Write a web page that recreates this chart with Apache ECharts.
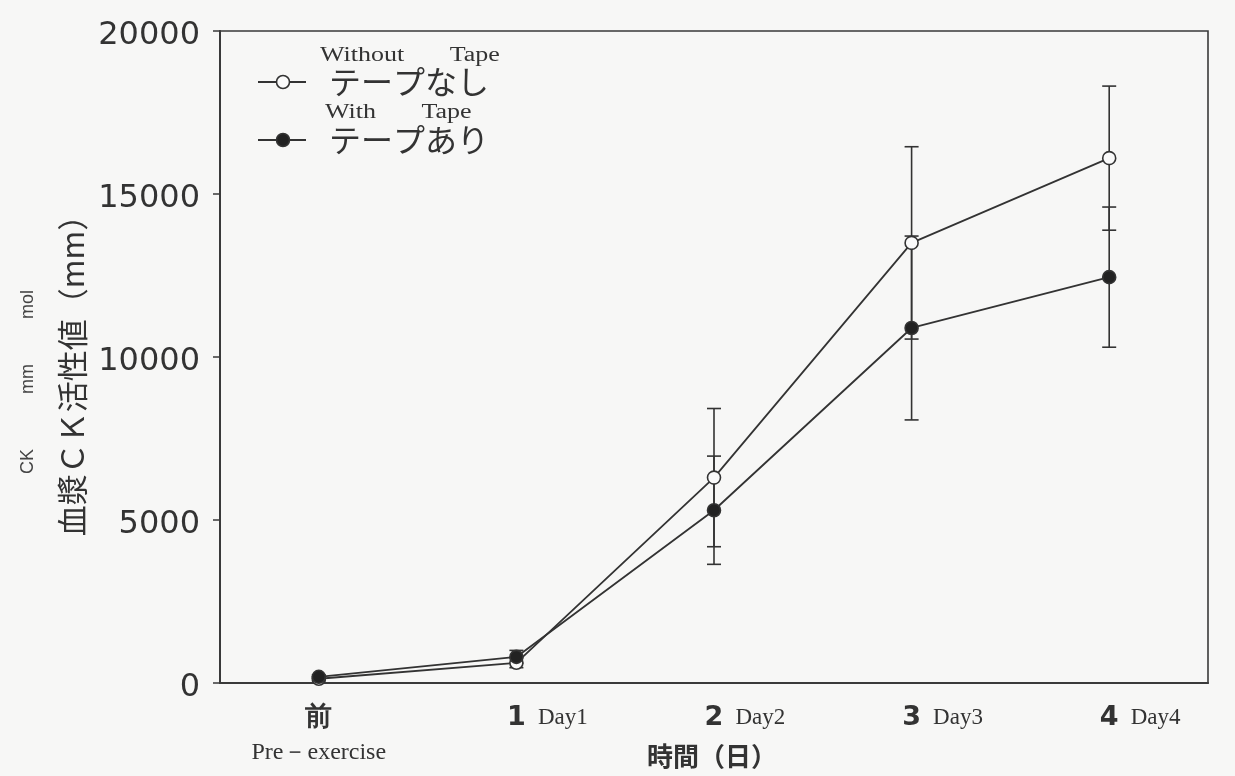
<!DOCTYPE html>
<html><head><meta charset="utf-8">
<script src="https://cdn.jsdelivr.net/npm/echarts@6/dist/echarts.min.js"></script>
<style>html,body{margin:0;padding:0;background:#f7f7f6}#c{width:1235px;height:776px}</style>
</head><body><div id="c"></div>
<script>
// ---- data ----
const categories = ['前', '1', '2', '3', '4'];
const dayLabels = ['Pre－exercise', 'Day1', 'Day2', 'Day3', 'Day4'];
const withoutTape = [130, 620, 6300, 13500, 16100];
const withoutTapeSD = [60, 150, 2120, 2950, 2210];
const withTape = [190, 800, 5300, 10890, 12450];
const withTapeSD = [60, 200, 1660, 2820, 2150];
const seriesNames = ['テープなし', 'テープあり'];
const seriesEnglish = ['Without       Tape', 'With       Tape'];
const yAxisName = '血漿ＣＫ活性値（mm）';
const yAxisSubName = 'CK           mm         mol';
const xAxisName = '時間（日）';

const INK = '#333333';
const chart = echarts.init(document.getElementById('c'));

function errRender(params, api) {
  const x = api.value(0), m = api.value(1), sd = api.value(2);
  const t = api.coord([x, m + sd]);
  const b = api.coord([x, m - sd]);
  const w = 7;
  const st = { stroke: INK, lineWidth: 1.6 };
  return {
    type: 'group',
    children: [
      { type: 'line', shape: { x1: t[0], y1: t[1], x2: b[0], y2: b[1] }, style: st },
      { type: 'line', shape: { x1: t[0] - w, y1: t[1], x2: t[0] + w, y2: t[1] }, style: st },
      { type: 'line', shape: { x1: b[0] - w, y1: b[1], x2: b[0] + w, y2: b[1] }, style: st }
    ]
  };
}

const legendX = 258, legendW = 48;
const legendGraphics = [];
[[82, 56, false], [140, 113, true]].forEach(([ly, ey, filled], i) => {
  legendGraphics.push(
    { type: 'line', shape: { x1: legendX, y1: ly, x2: legendX + legendW, y2: ly }, style: { stroke: INK, lineWidth: 1.8 } },
    { type: 'circle', shape: { cx: legendX + 25, cy: ly, r: 6.5 }, style: { fill: filled ? '#222' : '#fafafa', stroke: INK, lineWidth: 1.6 } },
    { type: 'text', x: 329, y: ly, style: { text: seriesNames[i], font: '32px "Noto Sans CJK JP"', fill: INK, textVerticalAlign: 'middle' } },
    { type: 'text', x: i === 0 ? 320 : 325, y: ey, scaleX: 1.3, style: { text: seriesEnglish[i], font: '20px "Liberation Serif"', fill: INK, textVerticalAlign: 'middle' } }
  );
});

const option = {
  backgroundColor: '#f7f7f6',
  animation: false,
  grid: { left: 220, right: 27, top: 31, bottom: 93, outerBoundsMode: 'none', containLabel: false, show: true, borderColor: '#3a3a3a', borderWidth: 1.6, backgroundColor: 'transparent' },
  xAxis: {
    type: 'category',
    data: categories,
    boundaryGap: true,
    axisLine: { lineStyle: { color: '#3a3a3a', width: 2 } },
    axisTick: { alignWithLabel: true, length: 7, lineStyle: { color: '#3a3a3a', width: 1.5 } },
    axisLabel: {
      margin: 20,
      interval: 0,
      formatter: (v, i) => i === 0 ? '{n|' + v + '}\n{e|' + dayLabels[i] + '}' : '{p|}{n|' + v + '}{d|' + dayLabels[i] + '}',
      rich: {
        n: { fontSize: 27, fontFamily: 'DejaVu Sans', color: INK, lineHeight: 30, fontWeight: 'bold' },
        e: { fontSize: 24, fontFamily: 'Liberation Serif', color: INK, lineHeight: 40 },
        d: { fontSize: 23, fontFamily: 'Liberation Serif', color: INK, width: 62, align: 'left', padding: [0, 0, 0, 6] },
        p: { width: 68 }
      }
    }
  },
  yAxis: {
    type: 'value',
    min: 0, max: 20000, interval: 5000,
    axisLine: { show: true, lineStyle: { color: '#3a3a3a', width: 2 } },
    axisTick: { show: true, length: 7, lineStyle: { color: '#3a3a3a', width: 1.5 } },
    splitLine: { show: false },
    axisLabel: {
      margin: 20,
      formatter: v => '{v|' + v + '}',
      rich: { v: { fontSize: 32, fontFamily: 'DejaVu Sans', color: INK, padding: [10, 0, 0, 0] } }
    }
  },
  graphic: [
    { type: 'text', x: 72, y: 368, rotation: Math.PI / 2, style: { text: yAxisName, font: '31px "Noto Sans CJK JP"', fill: INK, textAlign: 'center', textVerticalAlign: 'middle' } },
    { type: 'text', x: 28, y: 382, rotation: Math.PI / 2, style: { text: yAxisSubName, font: '18px "Liberation Sans"', fill: '#444', textAlign: 'center', textVerticalAlign: 'middle' } },
    { type: 'text', x: 712, y: 756, style: { text: xAxisName, font: 'bold 26px "Noto Sans CJK JP"', fill: INK, textAlign: 'center', textVerticalAlign: 'middle' } }
  ].concat(legendGraphics),
  series: [
    { type: 'custom', name: seriesNames[0] + ' SD', renderItem: errRender, z: 1, encode: { x: 0, y: 1 },
      data: withoutTape.map((v, i) => [i, v, withoutTapeSD[i]]) },
    { type: 'custom', name: seriesNames[1] + ' SD', renderItem: errRender, z: 1, encode: { x: 0, y: 1 },
      data: withTape.map((v, i) => [i, v, withTapeSD[i]]) },
    { type: 'line', name: seriesNames[0], data: withoutTape, z: 3, symbol: 'circle', symbolSize: 13,
      lineStyle: { color: INK, width: 1.8 }, itemStyle: { color: '#fafafa', borderColor: INK, borderWidth: 1.6 } },
    { type: 'line', name: seriesNames[1], data: withTape, z: 3, symbol: 'circle', symbolSize: 13,
      lineStyle: { color: INK, width: 1.8 }, itemStyle: { color: '#222', borderColor: INK, borderWidth: 1.6 } }
  ]
};
chart.setOption(option);
</script></body></html>
